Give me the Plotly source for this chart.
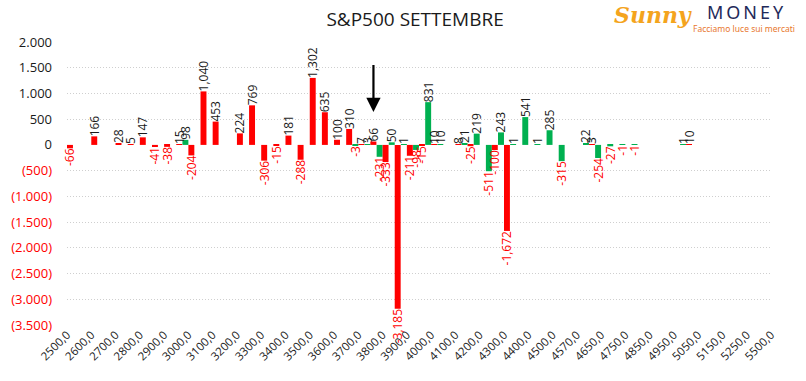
import plotly.graph_objects as go

# ---- data -------------------------------------------------------------
strikes = [2500, 2550, 2600, 2650, 2700, 2750, 2800, 2850, 2900, 2950,
           3000, 3050, 3100, 3150, 3200, 3250, 3300, 3350, 3400, 3450,
           3500, 3550, 3600, 3650, 3700, 3750, 3800, 3850, 3900, 3950,
           4000, 4050, 4100, 4150, 4200, 4250, 4300, 4350, 4400, 4450,
           4500, 4550, 4570, 4600, 4650, 4700, 4750, 4800, 4850, 4900,
           4950, 5000, 5050, 5100, 5150, 5200, 5250, 5300, 5500]
categories = [f"{s},0" for s in strikes]

labeled_strikes = [2500, 2600, 2700, 2800, 2900, 3000, 3100, 3200, 3300, 3400,
                   3500, 3600, 3700, 3800, 3900, 4000, 4100, 4200, 4300, 4400,
                   4500, 4570, 4650, 4750, 4850, 4950, 5050, 5150, 5250, 5500]
tick_labels = [f"{s},0" for s in labeled_strikes]

red_values = {2500: -66, 2600: 166, 2700: 28, 2750: 5, 2800: 147, 2850: -41,
              2900: -38, 2950: 15, 3000: -204, 3050: 1040, 3100: 453,
              3200: 224, 3250: 769, 3300: -306, 3350: -15, 3400: 181,
              3450: -288, 3500: 1302, 3550: 635, 3600: 100, 3650: 310,
              3700: 7, 3750: 66, 3800: -333, 3850: -3185, 3900: -211,
              3950: -15, 4000: 10, 4100: 8, 4150: -25, 4250: -100,
              4300: -1672, 4600: 3, 5000: 10}
green_values = {3000: 98, 3700: -3, 3750: 3, 3800: -231, 3850: 50, 3900: 1,
                3950: -98, 4000: 831, 4050: 10, 4150: 21, 4200: 219,
                4250: -511, 4300: 243, 4350: 1, 4400: 541, 4450: 1,
                4500: 285, 4550: -315, 4600: 22, 4650: -254, 4700: -27,
                4750: -1, 4800: -1, 5000: 1}

y_ticks = [2000, 1500, 1000, 500, 0, -500, -1000, -1500, -2000, -2500, -3000, -3500]
y_grid = [1500, 1000, 500, -500, -1000, -1500, -2000, -2500, -3000]

RED = "#FF0000"
GREEN = "#00B050"
NEG_LABEL = "#FF0000"
POS_LABEL = "#1a1a1a"


def series(d):
    ys = [d.get(s) for s in strikes]
    txt = ["" if v is None else f"{v:,}" for v in ys]
    cols = [NEG_LABEL if (v is not None and v < 0) else POS_LABEL for v in ys]
    return ys, txt, cols


def ytick_text(v):
    s = f"{abs(v):,}".replace(",", ".")
    if v < 0:
        return f"<span style='color:{NEG_LABEL}'>({s})</span>"
    return s


fig = go.Figure()
for d, col in [(green_values, GREEN), (red_values, RED)]:
    ys, txt, cols = series(d)
    fig.add_trace(go.Bar(
        x=categories, y=ys, marker=dict(color=col, line=dict(width=0)),
        text=txt, textposition="outside", textangle=-90,
        textfont=dict(color=cols, size=12, family="Open Sans"),
        constraintext="none", cliponaxis=False, showlegend=False,
    ))

fig.update_layout(
    width=806, height=381,
    margin=dict(l=67, r=35, t=42, b=56, autoexpand=False),
    paper_bgcolor="white", plot_bgcolor="white",
    barmode="group", bargap=0.02, bargroupgap=0,
    font=dict(family="Open Sans", color="#1a1a1a"),
    title=dict(text="S&P500 SETTEMBRE", x=0.515, xanchor="center",
               y=1 - 19 / 381, yanchor="middle",
               font=dict(size=19, family="Open Sans", color="#1a1a1a")),
    xaxis=dict(type="category", categoryorder="array", categoryarray=categories,
               range=[0, len(categories) - 1], automargin=False,
               tickmode="array", tickvals=tick_labels, ticktext=tick_labels,
               tickangle=-45, tickfont=dict(size=11.5, color="#1a1a1a"),
               showgrid=False, showline=False, zeroline=False, ticks=""),
    yaxis=dict(range=[-3500, 2000], tickmode="array", tickvals=y_ticks,
               ticktext=[ytick_text(v) for v in y_ticks], automargin=False,
               tickfont=dict(size=13, color="#1a1a1a"),
               showgrid=False, zeroline=False, showline=False, ticks="",
               ticklabelstandoff=14,
               minor=dict(tickmode="array", tickvals=y_grid, showgrid=True,
                          gridcolor="#cfcfcf", griddash="1px,2px", gridwidth=1,
                          ticks="")),
)

# arrow pointing at the 3750 strike
fig.add_annotation(x="3750,0", y=640, xshift=3, ax="3750,0", ay=1580,
                   axref="x", ayref="y", showarrow=True, arrowhead=2,
                   arrowsize=1.3, arrowwidth=2.2, arrowcolor="#000000", text="")

# logo (text rendition)
def px(x):
    return (x - 67) / 704


def py(y):
    return 1 + (42 - y) / 283


fig.add_annotation(xref="paper", yref="paper", x=px(653), y=py(15),
                   xanchor="center", yanchor="middle",
                   text="<b><i>Sunny</i></b>", showarrow=False,
                   font=dict(size=22, family="DejaVu Serif", color="#F4A41D"))
fig.add_annotation(xref="paper", yref="paper", x=px(745), y=py(12),
                   xanchor="center", yanchor="middle", borderpad=0,
                   text="M\u2009O\u2009N\u2009E\u2009Y", showarrow=False,
                   font=dict(size=18, family="Noto Sans", color="#1F2A5A"))
fig.add_annotation(xref="paper", yref="paper", x=px(744), y=py(28),
                   xanchor="center", yanchor="middle", borderpad=0,
                   text="Facciamo luce sui mercati", showarrow=False,
                   font=dict(size=8.5, family="Noto Sans", color="#E8772E"))

fig.write_html("out.html",
               config={"displayModeBar": False},
               post_script="document.body.style.margin='0';"
                           "document.body.style.overflow='hidden';")
